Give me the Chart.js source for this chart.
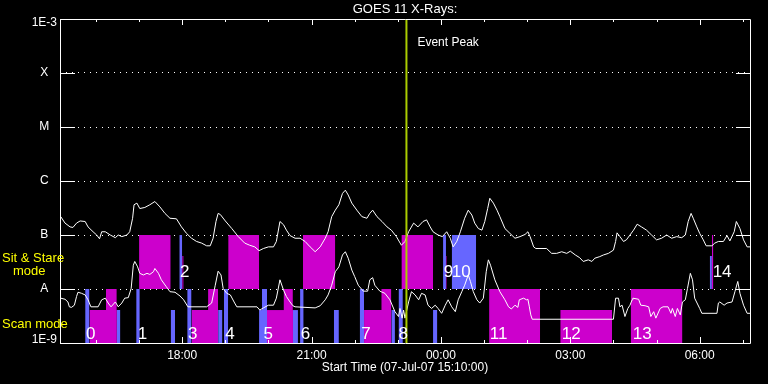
<!DOCTYPE html>
<html>
<head>
<meta charset="utf-8">
<title>GOES 11 X-Rays</title>
<script src="https://cdn.jsdelivr.net/npm/chart.js@4.4.1/dist/chart.umd.min.js"></script>
<style>
  html, body { margin: 0; padding: 0; background: #000; }
  canvas { display: block; }
</style>
</head>
<body>
<canvas id="chart" width="768" height="384"></canvas>
<script>
// time = minutes after 07-Jul-07 15:10:00, flux = log10 of X-ray flux (W/m2)

const longTime = [
  1, 7, 14, 18, 23, 28, 35, 39, 46, 51,
  55, 58, 63, 70, 77, 81, 86, 93, 97, 101,
  103, 107, 111, 118, 125, 132, 139, 146, 153, 162,
  169, 176, 183, 190, 197, 204, 209, 213, 217, 220,
  223, 230, 239, 248, 257, 264, 271, 277, 283, 290,
  297, 301, 306, 311, 315, 320, 327, 334, 341, 348,
  355, 362, 369, 373, 378, 383, 388, 393, 397, 401,
  406, 413, 420, 427, 431, 435, 441, 448, 455, 461,
  468, 475, 480, 485, 492, 498, 505, 510, 515, 519,
  526, 532, 538, 543, 547, 552, 557, 563, 568, 573,
  577, 582, 587, 591, 595, 598, 603, 608, 612, 619,
  626, 633, 640, 647, 651, 654, 659, 662, 677, 684,
  691, 698, 705, 710, 717, 723, 728, 735, 740, 744,
  751, 756, 763, 770, 773, 775, 779, 784, 788, 793,
  798, 803, 809, 816, 823, 830, 837, 844, 851, 858,
  865, 870, 874, 878, 881, 886, 890, 895, 899, 907,
  911, 916, 923, 928, 932, 938, 941, 946, 951, 956, 960
];
const longFlux = [
  -6.66, -6.78, -6.85, -6.86, -6.78, -6.74, -6.75, -6.85, -6.94, -7.00,
  -7.07, -6.94, -6.94, -7.00, -7.05, -7.00, -7.03, -7.00, -6.94, -6.69,
  -6.44, -6.41, -6.51, -6.49, -6.44, -6.38, -6.48, -6.60, -6.69, -6.70,
  -6.85, -6.97, -7.06, -7.12, -7.15, -7.20, -7.20, -7.06, -6.75, -6.60,
  -6.62, -6.74, -6.88, -7.03, -7.15, -7.19, -7.22, -7.29, -7.25, -7.22,
  -7.22, -7.12, -6.75, -6.81, -6.91, -7.01, -7.06, -7.06, -7.12, -7.22,
  -7.31, -7.22, -7.06, -6.94, -6.66, -6.54, -6.44, -6.23, -6.17, -6.26,
  -6.41, -6.54, -6.66, -6.69, -6.60, -6.54, -6.66, -6.75, -6.85, -6.91,
  -7.03, -7.19, -7.12, -6.94, -6.78, -6.85, -6.75, -6.72, -6.85, -6.94,
  -7.00, -7.03, -6.94, -7.06, -7.22, -7.12, -6.94, -6.69, -6.54, -6.63,
  -6.78, -6.88, -6.91, -6.75, -6.51, -6.32, -6.41, -6.54, -6.66, -6.88,
  -6.97, -7.06, -7.03, -6.99, -6.94, -7.03, -7.22, -7.25, -7.25, -7.34,
  -7.34, -7.31, -7.34, -7.30, -7.37, -7.42, -7.49, -7.46, -7.49, -7.43,
  -7.40, -7.37, -7.34, -7.28, -7.12, -6.96, -7.03, -7.12, -7.09, -7.00,
  -6.91, -6.80, -6.85, -6.91, -7.00, -7.09, -7.06, -7.00, -7.06, -7.03,
  -7.05, -7.00, -6.75, -6.60, -6.69, -6.85, -6.97, -7.09, -7.20, -7.20,
  -7.15, -7.12, -7.12, -7.01, -7.11, -6.94, -6.75, -6.88, -7.09, -7.22, -7.22
];

const shortTime = [
  1, 7, 11, 13, 16, 20, 23, 25, 30, 35,
  39, 43, 53, 58, 63, 67, 71, 77, 81, 86,
  90, 95, 99, 102, 104, 108, 111, 116, 121, 125,
  130, 132, 137, 141, 148, 153, 160, 167, 172, 178,
  204, 211, 216, 220, 224, 227, 232, 237, 243, 246,
  274, 278, 283, 290, 297, 301, 306, 311, 315, 320,
  324, 327, 355, 362, 369, 373, 378, 383, 388, 393,
  397, 401, 406, 410, 415, 422, 428, 431, 435, 438,
  445, 452, 459, 466, 471, 473, 476, 478, 480, 485,
  489, 494, 499, 503, 508, 512, 517, 522, 526, 531,
  536, 540, 545, 550, 554, 559, 563, 568, 571, 575,
  580, 584, 589, 593, 596, 599, 605, 612, 619, 624,
  628, 633, 637, 639, 645, 649, 651, 653, 655, 657,
  770, 773, 777, 779, 782, 786, 790, 793, 796, 797,
  805, 808, 814, 819, 822, 826, 829, 835, 839, 846,
  850, 852, 856, 859, 863, 866, 870, 873, 877, 880,
  883, 890, 893, 914, 916, 918, 924, 928, 935, 939, 943, 946, 951, 956, 960
];
const shortFlux = [
  -8.17, -8.19, -8.24, -8.33, -8.34, -8.30, -8.14, -8.06, -8.08, -8.11,
  -8.20, -8.33, -8.33, -8.20, -8.17, -8.26, -8.33, -8.24, -8.33, -8.26,
  -8.17, -8.16, -7.99, -7.56, -7.49, -7.59, -7.71, -7.74, -7.71, -7.73,
  -7.68, -7.62, -7.71, -7.83, -7.96, -8.05, -8.06, -8.13, -8.20, -8.33,
  -8.33, -8.26, -7.93, -7.67, -7.74, -7.99, -8.08, -8.11, -8.26, -8.33,
  -8.33, -8.39, -8.35, -8.30, -8.30, -8.17, -7.83, -8.02, -8.14, -8.24,
  -8.31, -8.33, -8.35, -8.31, -8.20, -8.11, -7.93, -7.68, -7.59, -7.37,
  -7.31, -7.43, -7.65, -7.77, -7.93, -8.04, -8.04, -7.83, -7.79, -7.93,
  -8.04, -8.08, -8.20, -8.42, -8.51, -8.36, -8.54, -8.39, -8.54, -8.24,
  -8.05, -8.11, -8.20, -8.08, -8.11, -8.30, -8.36, -8.30, -8.36, -8.45,
  -8.30, -8.20, -8.33, -8.42, -8.20, -8.05, -7.93, -7.74, -7.86, -8.05,
  -8.20, -8.26, -8.17, -7.68, -7.46, -7.56, -7.83, -8.05, -8.20, -8.33,
  -8.37, -8.30, -8.34, -8.20, -8.17, -8.20, -8.19, -8.33, -8.48, -8.56,
  -8.56, -8.17, -8.17, -8.33, -8.30, -8.51, -8.36, -8.30, -8.20, -8.17,
  -8.19, -8.30, -8.31, -8.33, -8.51, -8.42, -8.54, -8.36, -8.33, -8.33,
  -8.45, -8.36, -8.51, -8.36, -8.48, -8.24, -8.20, -7.99, -7.71, -7.83,
  -8.17, -8.36, -8.45, -8.45, -8.26, -8.24, -8.30, -8.26, -8.24, -8.05, -7.86, -8.08, -8.30, -8.45, -8.45
];

// observing blocks: [start, end, low, high]
const stareBlocks = [
  [41, 79, -9, -8.39], [64, 79, -9, -8],
  [110, 154, -8, -7], [170, 172, -8, -7.39],
  [183, 220, -9, -8.39], [206, 220, -9, -8],
  [234, 277, -8, -7],
  [288, 324, -9, -8.39], [311, 324, -9, -8],
  [338, 383, -8, -7],
  [423, 461, -9, -8.39], [447, 461, -9, -8],
  [475, 519, -8, -7], [536, 538, -8, -7.39],
  [597, 668, -9, -8], [696, 768, -9, -8.39], [794, 866, -9, -8],
  [907, 909, -8, -7]
];
const scanBlocks = [
  [35, 41, -9, -8], [79, 84, -9, -8.39],
  [106, 111, -9, -8], [154, 160, -9, -8.39],
  [166, 170, -8, -7],
  [177, 183, -9, -8], [220, 226, -9, -8.39],
  [228, 234, -9, -8],
  [277, 288, -9, -8.39], [281, 288, -9, -8], [324, 331, -9, -8.39],
  [334, 339, -9, -8], [381, 388, -9, -8.39],
  [417, 423, -9, -8], [461, 466, -9, -8.39],
  [471, 477, -9, -8], [519, 525, -9, -8.39],
  [533, 537, -8, -7], [545, 579, -8, -7],
  [904, 907, -8, -7.39]
];

const seqNames = ['0', '1', '2', '3', '4', '5', '6', '7', '8', '9', '10', '11', '12', '13', '14'];
const seqTimes = [36, 108, 167, 178, 230, 283, 335, 419, 471, 534, 545, 598, 698, 797, 908];
const seqLevels = [-8.93, -8.93, -7.78, -8.93, -8.93, -8.93, -8.93, -8.93, -8.93, -7.78, -7.78, -8.93, -8.93, -8.93, -7.78];

const levelValues = [-9, -8, -7, -6, -5, -4, -3];
const levelNames = ['1E-9', 'A', 'B', 'C', 'M', 'X', '1E-3'];

const hourTicks = [50, 110, 170, 230, 290, 350, 410, 470, 530, 590, 650, 710, 770, 830, 890, 950];
const hourLabels = ['', '', '18:00', '', '', '21:00', '', '', '00:00', '', '', '03:00', '', '', '06:00', ''];

const eventPeak = 482;

Chart.defaults.font.family = '"Liberation Sans", Arial, sans-serif';
Chart.defaults.color = '#fff';

function block(b, color) {
  return {
    data: [{ x: b[0], y: b[3] }, { x: b[1], y: b[3] }],
    fill: { value: b[2] },
    backgroundColor: color,
    borderColor: 'transparent',
    borderWidth: 0,
    pointRadius: 0,
    order: color === '#cc00cc' ? 3 : 2
  };
}

const datasets = [
  {
    data: [{ x: eventPeak, y: -9 }, { x: eventPeak, y: -3 }],
    borderColor: '#aacc00',
    borderWidth: 2,
    pointRadius: 0,
    order: 0
  },
  {
    data: longTime.map((t, i) => ({ x: t, y: longFlux[i] })),
    borderColor: '#fff',
    borderWidth: 1,
    pointRadius: 0,
    tension: 0,
    order: 1
  },
  {
    data: shortTime.map((t, i) => ({ x: t, y: shortFlux[i] })),
    borderColor: '#fff',
    borderWidth: 1,
    pointRadius: 0,
    tension: 0,
    order: 1
  }
];
stareBlocks.forEach(b => datasets.push(block(b, '#cc00cc')));
scanBlocks.forEach(b => datasets.push(block(b, '#6666ff')));

// frame, inward ticks and text labels
const framePlugin = {
  id: 'frame',
  afterDraw(chart) {
    const { ctx, chartArea: a, scales: { x, y } } = chart;
    ctx.save();
    ctx.strokeStyle = '#fff';
    ctx.lineWidth = 1;
    ctx.beginPath();
    ctx.moveTo(a.left + 0.5, a.top + 0.5);
    ctx.lineTo(a.right + 0.5, a.top + 0.5);
    ctx.lineTo(a.right + 0.5, a.bottom + 0.5);
    ctx.lineTo(a.left + 0.5, a.bottom + 0.5);
    ctx.closePath();

    hourTicks.forEach((v, i) => {
      const px = Math.round(x.getPixelForValue(v)) + 0.5;
      const len = hourLabels[i] ? 6 : 3;
      ctx.moveTo(px, a.top);
      ctx.lineTo(px, a.top + len);
      ctx.moveTo(px, a.bottom);
      ctx.lineTo(px, a.bottom - len);
    });
    levelValues.forEach(v => {
      const py = Math.round(y.getPixelForValue(v)) + 0.5;
      ctx.moveTo(a.left, py);
      ctx.lineTo(a.left + 15, py);
      ctx.moveTo(a.right - 14, py);
      ctx.lineTo(a.right, py);
    });
    ctx.stroke();

    ctx.fillStyle = '#fff';
    ctx.font = '17px "Liberation Sans", Arial, sans-serif';
    ctx.textAlign = 'left';
    ctx.textBaseline = 'alphabetic';
    seqNames.forEach((s, i) => {
      ctx.fillText(s, x.getPixelForValue(seqTimes[i]), y.getPixelForValue(seqLevels[i]));
    });

    ctx.font = '12px "Liberation Sans", Arial, sans-serif';
    ctx.textBaseline = 'middle';
    ctx.fillText('Event Peak', x.getPixelForValue(eventPeak) + 11, a.top + 24);

    ctx.fillStyle = '#ffff00';
    ctx.font = '13px "Liberation Sans", Arial, sans-serif';
    ctx.fillText('Sit & Stare', 2, y.getPixelForValue(-7.44));
    ctx.fillText('mode', 13, y.getPixelForValue(-7.67));
    ctx.fillText('Scan mode', 2, y.getPixelForValue(-8.65));
    ctx.restore();
  }
};

new Chart(document.getElementById('chart'), {
  type: 'line',
  data: { datasets },
  plugins: [framePlugin],
  options: {
    responsive: false,
    animation: false,
    events: [],
    layout: { padding: { top: 0, right: 18, bottom: 0, left: 0 } },
    plugins: {
      legend: { display: false },
      tooltip: { enabled: false },
      title: {
        display: true,
        text: 'GOES 11 X-Rays:',
        color: '#fff',
        fullSize: false,
        font: { size: 13, weight: 'normal', lineHeight: 1 },
        padding: { top: 3, bottom: 3 }
      }
    },
    scales: {
      x: {
        type: 'linear',
        min: 0,
        max: 960,
        afterBuildTicks: s => { s.ticks = hourTicks.map(v => ({ value: v })); },
        afterFit: s => { s.height = 41; },
        grid: { display: false, drawTicks: false },
        border: { display: false },
        ticks: {
          color: '#fff',
          font: { size: 12 },
          padding: 5,
          autoSkip: false,
          maxRotation: 0,
          callback: (v, i) => hourLabels[i]
        },
        title: {
          display: true,
          text: 'Start Time (07-Jul-07 15:10:00)',
          color: '#fff',
          font: { size: 12 },
          padding: { top: 0, bottom: 9 }
        }
      },
      y: {
        type: 'linear',
        min: -9,
        max: -3,
        z: 1,
        afterBuildTicks: s => { s.ticks = levelValues.map(v => ({ value: v })); },
        afterFit: s => { s.width = 60; },
        grid: {
          color: c => (c.tick && c.tick.value > -9 && c.tick.value < -3) ? '#fff' : 'transparent',
          drawTicks: false,
          lineWidth: 1
        },
        border: { display: false, dash: [1, 5] },
        ticks: {
          color: '#fff',
          padding: 3,
          crossAlign: 'center',
          // end labels sit just inside the frame
          font: c => {
            const v = c.tick ? c.tick.value : 0;
            if (v === -3) return { size: 12, lineHeight: 0.67 };
            if (v === -9) return { size: 12, lineHeight: 0.5 };
            return { size: 12 };
          },
          callback: (v, i) => v === -3 ? ['', levelNames[i]] : v === -9 ? [levelNames[i], ''] : levelNames[i]
        }
      }
    }
  }
});
</script>
</body>
</html>
